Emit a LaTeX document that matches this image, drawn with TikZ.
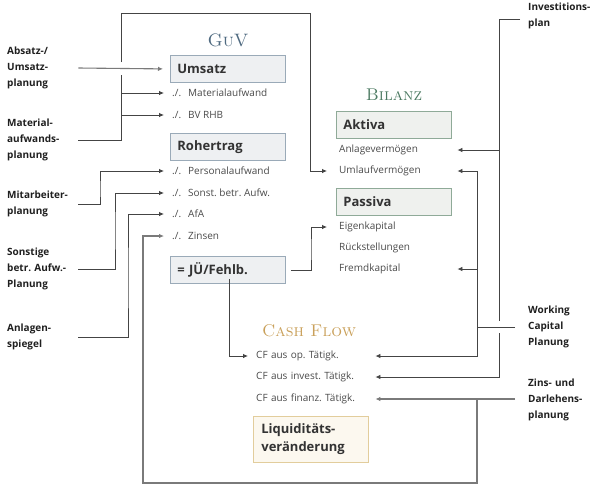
\documentclass[tikz,border=0pt]{standalone}
\usepackage{fontspec}
\newfontfamily\os{Open Sans}
\frenchspacing
\usetikzlibrary{arrows.meta}
\definecolor{guvc}{HTML}{4F6A80}
\definecolor{bilc}{HTML}{4C7A62}
\definecolor{cfc}{HTML}{C9A05A}
\definecolor{gbox}{HTML}{EEF0F2}
\definecolor{gbord}{HTML}{9AAAB8}
\definecolor{abox}{HTML}{EFF1EE}
\definecolor{abord}{HTML}{8FAA98}
\definecolor{lbox}{HTML}{FCF8EF}
\definecolor{lbord}{HTML}{E2CD9C}
\definecolor{linec}{HTML}{444444}
\definecolor{lineg}{HTML}{7A7A7A}
\definecolor{itemc}{HTML}{4A4A4A}
\definecolor{boxt}{HTML}{333333}
\tikzset{
  conn/.style={draw=linec, line width=0.8pt},
  arr/.style={conn, -{Latex[length=5pt,width=4.5pt]}},
  conng/.style={draw=lineg, line width=1.1pt},
  arrg/.style={conng, -{Latex[length=5pt,width=4.5pt]}},
  lbl/.style={font=\os\bfseries\fontsize{10}{16}\selectfont\frenchspacing, text=black!88, align=left, inner sep=0pt, text width=71pt, anchor=west},
  rlbl/.style={font=\os\bfseries\fontsize{10}{16}\selectfont\frenchspacing, text=black!88, align=left, inner sep=0pt, text width=66pt, anchor=west},
  item/.style={font=\os\fontsize{10}{12}\selectfont\frenchspacing, text=itemc, inner sep=0pt, anchor=west},
  bitem/.style={item, text width=118pt, align=left},
  citem/.style={item, text width=119pt, align=left},
  boxbase/.style={line width=0.8pt, minimum height=27pt, text width=101pt, align=left, inner xsep=7pt, font=\os\bfseries\fontsize{13}{18}\selectfont, text=boxt, anchor=north west},
  gbx/.style={boxbase, draw=gbord, fill=gbox},
  abx/.style={boxbase, draw=abord, fill=abox},
  lbx/.style={boxbase, draw=lbord, fill=lbox, minimum height=46pt, inner xsep=8pt, text width=99pt},
  ttl/.style={font=\rmfamily\scshape\fontsize{18}{20}\selectfont, inner sep=0pt},
}
\newcommand{\gi}[1]{\makebox[16pt][l]{./.}#1}
\begin{document}
\begin{tikzpicture}[x=1pt,y=-1pt]
\useasboundingbox (0,0) rectangle (594,491);
% titles
\node[ttl, text=guvc] (guvt) at (228,40) {GuV};
\node[ttl, text=bilc, font=\rmfamily\scshape\fontsize{17}{20}\selectfont] (bilt) at (394,95) {Bilanz};
\node[ttl, text=cfc, font=\rmfamily\scshape\fontsize{17}{20}\selectfont] (cft) at (309,331) {Cash Flow};
% GuV
\node[gbx] (umsatz) at (170,55) {Umsatz};
\node[item] (mat) at (172,93) {\gi{Materialaufwand}};
\node[item] (bv) at (172,115) {\gi{BV RHB}};
\node[gbx] (roh) at (170,133) {Rohertrag};
\node[item] (pers) at (172,171) {\gi{Personalaufwand}};
\node[item] (sonst) at (172,193) {\gi{Sonst. betr. Aufw.}};
\node[item] (afa) at (172,214) {\gi{AfA}};
\node[item] (zinsen) at (172,236) {\gi{Zinsen}};
\node[gbx] (jue) at (170,256) {= JÜ/Fehlb.};
% Bilanz
\node[abx] (aktiva) at (336,111) {Aktiva};
\node[bitem] (anlage) at (339,150) {Anlagevermögen};
\node[bitem] (umlauf) at (339,171) {Umlaufvermögen};
\node[abx] (passiva) at (336,188) {Passiva};
\node[bitem] (eigen) at (339,227) {Eigenkapital};
\node[bitem] (rueck) at (339,248) {Rückstellungen};
\node[bitem] (fremd) at (339,269) {Fremdkapital};
% Cash flow
\node[citem] (cfop) at (256,356) {CF aus op. Tätigk.};
\node[citem] (cfinv) at (256,377) {CF aus invest. Tätigk.};
\node[citem] (cffin) at (256,399) {CF aus finanz. Tätigk.};
\node[lbx] (liq) at (253,416) {Liquiditäts-\\veränderung};
% left labels
\node[lbl] (absatz) at (7,68) {Absatz-/\\Umsatz-\\planung};
\node[lbl] (matpl) at (7,140) {Material-\\aufwands-\\planung};
\node[lbl] (mitpl) at (7,204) {Mitarbeiter-\\planung};
\node[lbl] (sonpl) at (7,269) {Sonstige\\betr. Aufw.-\\Planung};
\node[lbl] (anlpl) at (7,337) {Anlagen-\\spiegel};
% right labels
\node[rlbl] (inv) at (528,16) {Investitions-\\plan};
\node[rlbl] (wc) at (528,327) {Working\\Capital\\Planung};
\node[rlbl] (zinspl) at (528,400) {Zins- und\\Darlehens-\\planung};
% helper coordinates
\coordinate (m1) at (121,75);
\coordinate (m2) at (121,62);
\coordinate (m3) at (310,13);
\coordinate (mx) at (100,190);
\coordinate (sx) at (115,230);
\coordinate (ax) at (128,280);
\coordinate (zx1) at (477,399);
\coordinate (zx2) at (143,483);
\coordinate (ix1) at (499,321);
\coordinate (ix2) at (499,333);
\coordinate (wx) at (477,250);
\coordinate (jx) at (311,250);
% connectors
\draw[arrg] (absatz.east) -- ([xshift=-7pt]umsatz.west);
\draw[conn] (matpl.east) -| (m1);
\draw[arr] (mat.west -| m1) -- ([xshift=-8pt]mat.west);
\draw[arr] (bv.west -| m1) -- ([xshift=-8pt]bv.west);
\draw[arr] (m2) |- (m3) |- ([xshift=-12pt]umlauf.west);
\draw[arr] (mitpl.east) -| (mx) |- ([xshift=-8pt]pers.west);
\draw[arr] (sonpl.east) -| (sx) |- ([xshift=-8pt]sonst.west);
\draw[arr] (anlpl.east) -| (ax) |- ([xshift=-8pt]afa.west);
\draw[arrg] ([xshift=-13pt]zinspl.west |- cffin.east) -- (cffin.east);
\draw[arrg] (zx1) |- (zx2) |- ([xshift=-8pt]zinsen.west);
\draw[conn] ([xshift=-8pt,yshift=-3pt]inv.west) -| (ix1);
\draw[arr] (ix2) |- (cfinv.east);
\draw[arr] (anlage.east -| ix1) -- (anlage.east);
\draw[conn] ([xshift=-13pt]wc.west) -- (wc.west -| wx);
\draw[arr] (umlauf.east -| wx) |- (cfop.east);
\draw[arr] (umlauf.east -| wx) -- (umlauf.east);
\draw[arr] (fremd.east -| wx) -- (fremd.east);
\draw[arr] ([xshift=5pt]jue.east) -| (jx) |- ([xshift=-12pt]eigen.west);
\draw[arr] ([xshift=1pt,yshift=5pt]jue.south) |- ([xshift=-8pt]cfop.west);
\end{tikzpicture}
\end{document}
